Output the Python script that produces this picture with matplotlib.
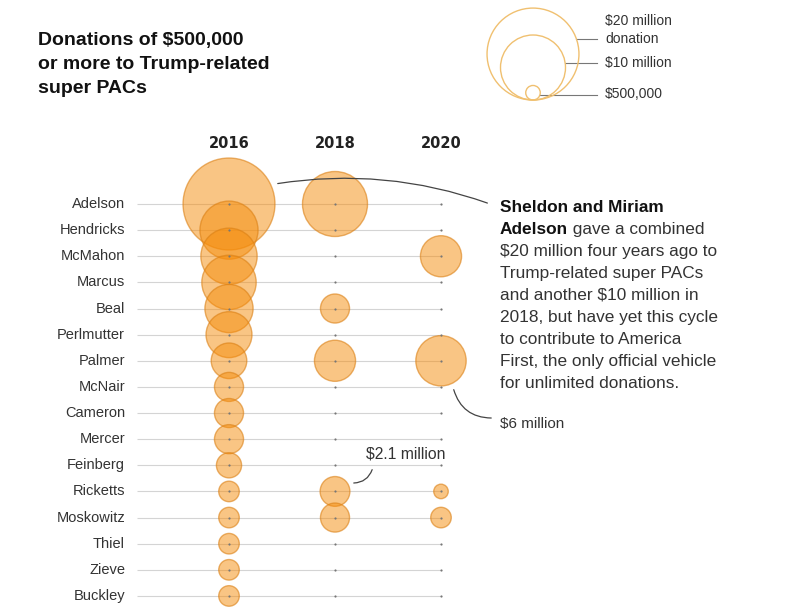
import matplotlib.pyplot as plt
import numpy as np

plt.rcParams['font.family'] = ['Liberation Sans', 'DejaVu Sans']

donors = ['Adelson', 'Hendricks', 'McMahon', 'Marcus', 'Beal', 'Perlmutter',
          'Palmer', 'McNair', 'Cameron', 'Mercer', 'Feinberg', 'Ricketts',
          'Moskowitz', 'Thiel', 'Zieve', 'Buckley']
years = ['2016', '2018', '2020']
# donations in $ millions, 0 = none
d2016 = [20, 8, 7.5, 7, 5.5, 5, 3, 2, 2, 2, 1.5, 1, 1, 1, 1, 1]
d2018 = [10, 0, 0, 0, 2, 0, 4, 0, 0, 0, 0, 2.1, 2, 0, 0, 0]
d2020 = [0, 0, 4, 0, 0, 0, 6, 0, 0, 0, 0, 0.5, 1, 0, 0, 0]
legend_amounts = [20, 10, 0.5]
legend_labels = ['$20 million\ndonation', '$10 million', '$500,000']

W, H = 800, 608
fig = plt.figure(figsize=(W / 100, H / 100), dpi=100)
ax = fig.add_axes([0, 0, 1, 1])
ax.axis('off')

# pixel layout -> data coords (column index / row index)
x0, dx = 229, 106
y0, dy = 204, 26.13
ax.set_xlim(-x0 / dx, (W - x0) / dx)
ax.set_ylim((H - y0) / dy, -y0 / dy)

def fx(px):
    return (px - x0) / dx

def fy(py):
    return (py - y0) / dy

S = 219.0  # marker area (pt^2) per $1 million
fill = (0.96, 0.55, 0.04, 0.5)
edge = (0.86, 0.50, 0.08, 0.6)
rows = np.arange(len(donors))

ax.hlines(rows, fx(137), 2, color='#d4d4d4', lw=0.8, zorder=1)
for j in range(3):
    ax.scatter(np.full(len(rows), j), rows, s=2.5, color='#777777', zorder=4, lw=0)

for j, vals in enumerate([d2016, d2018, d2020]):
    vals = np.array(vals, dtype=float)
    m = vals > 0
    ax.scatter(np.full(m.sum(), j), rows[m], s=vals[m] * S, facecolor=fill,
               edgecolor=edge, lw=1.0, zorder=3)

for i, name in enumerate(donors):
    ax.text(fx(125), i, name, ha='right', va='center', fontsize=10.5, color='#333333')

for j, yr in enumerate(years):
    ax.text(j, fy(143), yr, ha='center', va='center', fontsize=10.5,
            fontweight='bold', color='#222222', family='DejaVu Sans')

# title
fig.text(38 / W, 1 - 32 / H, 'Donations of \\$500,000\nor more to Trump-related\nsuper PACs',
         ha='left', va='top', fontsize=14, fontweight='bold', color='#111111',
         linespacing=1.55)

# size legend
lx, lbottom = 533, 100
line_y = [39, 63, 95]
for amt, lab, ly in zip(legend_amounts, legend_labels, line_y):
    r_px = np.sqrt(amt * S) / 2 * 100 / 72
    ax.scatter([fx(lx)], [fy(lbottom - r_px)], s=amt * S, facecolor='none',
               edgecolor='#f0c070', lw=1.0, zorder=3)
    ax.plot([fx(lx + np.sqrt(r_px**2 - (lbottom - r_px - ly)**2)), fx(597)],
            [fy(ly), fy(ly)], color='#777777', lw=0.8)
legend_text_y = [30, 63, 94]
for lab, ty in zip(legend_labels, legend_text_y):
    ax.text(fx(605), fy(ty), lab.replace('$', '\\$'), ha='left', va='center',
            fontsize=10, color='#333333', linespacing=1.3)

# Adelson note
note = ['Sheldon and Miriam', 'Adelson', '\\$20 million four years ago to',
        'Trump-related super PACs', 'and another \\$10 million in',
        '2018, but have yet this cycle', 'to contribute to America',
        'First, the only official vehicle', 'for unlimited donations.']
for k, line in enumerate(note):
    bold = k < 2
    t = ax.text(fx(500), fy(207 + 22.1 * k), line, ha='left', va='center',
                fontsize=12.4, color='#111111' if bold else '#333333',
                fontweight='bold' if bold else 'normal')
    if k == 1:
        ax.annotate(' gave a combined', xy=(1, 0), xycoords=t, ha='left', va='bottom',
                    fontsize=12.4, color='#333333')

ax.annotate('', xy=(fx(490), fy(204)), xytext=(fx(275), fy(184)),
            arrowprops=dict(arrowstyle='-', color='#444444', lw=0.9,
                            connectionstyle='arc3,rad=-0.13'))

ax.text(fx(500), fy(424), '\\$6 million', ha='left', va='center', fontsize=11, color='#333333')
ax.annotate('', xy=(fx(494), fy(418)), xytext=(fx(453), fy(387)),
            arrowprops=dict(arrowstyle='-', color='#444444', lw=0.9,
                            connectionstyle='arc3,rad=0.4'))

ax.text(fx(366), fy(454), '\\$2.1 million', ha='left', va='center', fontsize=11.3, color='#333333')
ax.annotate('', xy=(fx(351), fy(483)), xytext=(fx(373), fy(467)),
            arrowprops=dict(arrowstyle='-', color='#444444', lw=0.9,
                            connectionstyle='arc3,rad=-0.4'))

fig.savefig('out.png', dpi=100)
